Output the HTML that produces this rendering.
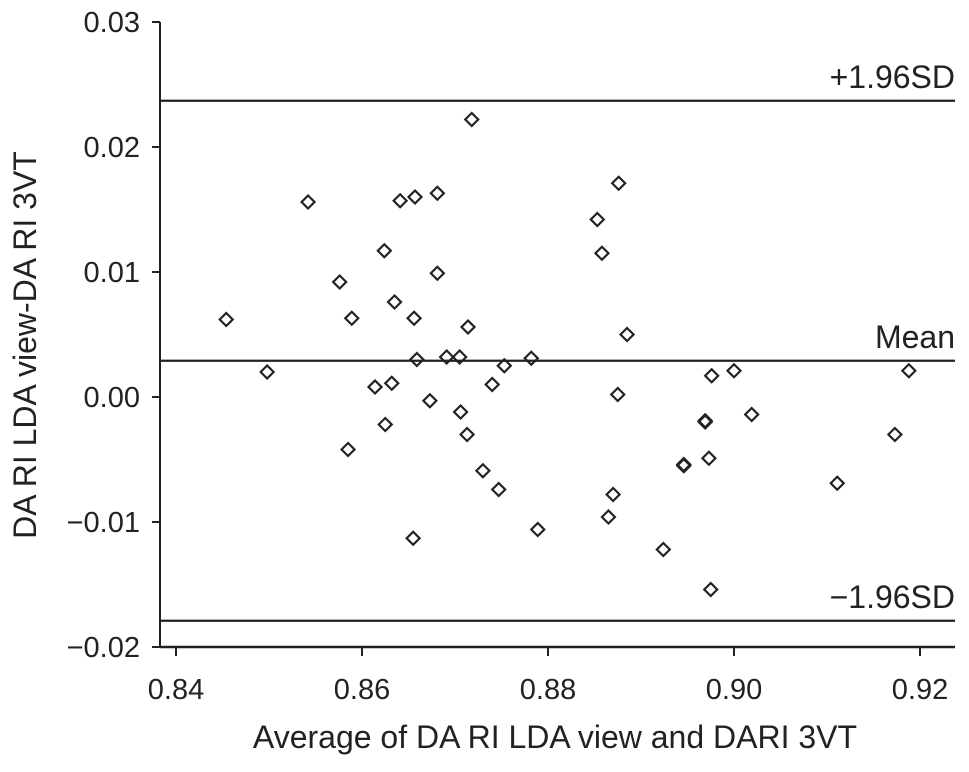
<!DOCTYPE html>
<html><head><meta charset="utf-8"><style>
body{margin:0;background:#fff;}
svg text{font-family:"Liberation Sans",Arial,sans-serif;fill:#222;}
</style></head><body>
<svg id="chart" width="969" height="767" viewBox="0 0 969 767" xmlns="http://www.w3.org/2000/svg"></svg>
<script>
const xTicks=[0.84,0.86,0.88,0.90,0.92];
const xTickLabels=["0.84","0.86","0.88","0.90","0.92"];
const yTicks=[0.03,0.02,0.01,0.00,-0.01,-0.02];
const yTickLabels=["0.03","0.02","0.01","0.00","\u22120.01","\u22120.02"];
const meanDiff=0.0029;
const upperLoA=0.0237;
const lowerLoA=-0.0179;
const avgValues=[0.8454,0.8498,0.8542,0.8576,0.8589,0.8624,0.8635,0.8641,0.8657,0.8656,0.8681,0.8681,0.8718,0.8714,0.8659,0.8691,0.8705,0.8753,0.8740,0.8782,0.8614,0.8632,0.8673,0.8625,0.8706,0.8713,0.8585,0.8730,0.8747,0.8789,0.8655,0.8853,0.8858,0.8876,0.8885,0.8875,0.8870,0.8865,0.8924,0.8946,0.8946,0.8969,0.8969,0.8973,0.8976,0.9000,0.9019,0.8975,0.9111,0.9173,0.9188];
const diffValues=[0.0062,0.0020,0.0156,0.0092,0.0063,0.0117,0.0076,0.0157,0.0160,0.0063,0.0163,0.0099,0.0222,0.0056,0.0030,0.0032,0.0032,0.0025,0.0010,0.0031,0.0008,0.0011,-0.0003,-0.0022,-0.0012,-0.0030,-0.0042,-0.0059,-0.0074,-0.0106,-0.0113,0.0142,0.0115,0.0171,0.0050,0.0002,-0.0078,-0.0096,-0.0122,-0.0054,-0.0055,-0.0019,-0.0020,-0.0049,0.0017,0.0021,-0.0014,-0.0154,-0.0069,-0.0030,0.0021];

const NS="http://www.w3.org/2000/svg";
const svg=document.getElementById('chart');
const X0=160,X1=955,Y0=22,Y1=647;
function xs(v){return 176+(v-0.84)*9300;}
function ys(v){return 397-v*12500;}
function mk(tag,attrs,parent){const e=document.createElementNS(NS,tag);for(const k in attrs)e.setAttribute(k,attrs[k]);(parent||svg).appendChild(e);return e;}

const ax=mk('g',{});


const yl=mk('line',{x1:X0,y1:Y0,x2:X0,y2:Y1,stroke:'#222','stroke-width':2},ax);


const xl=mk('line',{x1:X0,y1:Y1,x2:X1,y2:Y1,stroke:'#222','stroke-width':2.5},ax);



yTicks.forEach((v,i)=>{
  const y=ys(v);
  const t=mk('line',{x1:X0-8,y1:y,x2:X0,y2:y,stroke:'#222','stroke-width':2},ax);
  
  
  const l=mk('text',{x:140,y:y+10,'text-anchor':'end','font-size':29},ax);
  l.textContent=yTickLabels[i];
  
  
});
xTicks.forEach((v,i)=>{
  const x=xs(v);
  const t=mk('line',{x1:x,y1:Y1,x2:x,y2:Y1+9,stroke:'#222','stroke-width':2},ax);
  
  
  const l=mk('text',{x:x,y:Y1+52,'text-anchor':'middle','font-size':29},ax);
  l.textContent=xTickLabels[i];
  
  
});

const refs=[[upperLoA,'+1.96SD','upper-limit-line'],[meanDiff,'Mean','mean-line'],[lowerLoA,'\u22121.96SD','lower-limit-line']];
refs.forEach(r=>{
  const y=ys(r[0]);
  const ln=mk('line',{x1:X0,y1:y,x2:X1,y2:y,stroke:'#222','stroke-width':2.2});
  
  
  const t=mk('text',{x:X1,y:y-13,'text-anchor':'end','font-size':32});
  t.textContent=r[1];
  
  
});

const pts=mk('g',{fill:'none',stroke:'#222','stroke-width':2.2});


avgValues.forEach((a,i)=>{
  const x=xs(a),y=ys(diffValues[i]),r=6.5;
  const p=mk('polygon',{points:`${x},${y-r} ${x+r},${y} ${x},${y+r} ${x-r},${y}`},pts);
  
  
});

const xt=mk('text',{x:555,y:748,'text-anchor':'middle','font-size':32});
xt.textContent='Average of DA RI LDA view and DARI 3VT';


const yt=mk('text',{x:0,y:0,'text-anchor':'middle','font-size':32,transform:'translate(36,345) rotate(-90)'});
yt.textContent='DA RI LDA view-DA RI 3VT';


</script>
</body></html>
